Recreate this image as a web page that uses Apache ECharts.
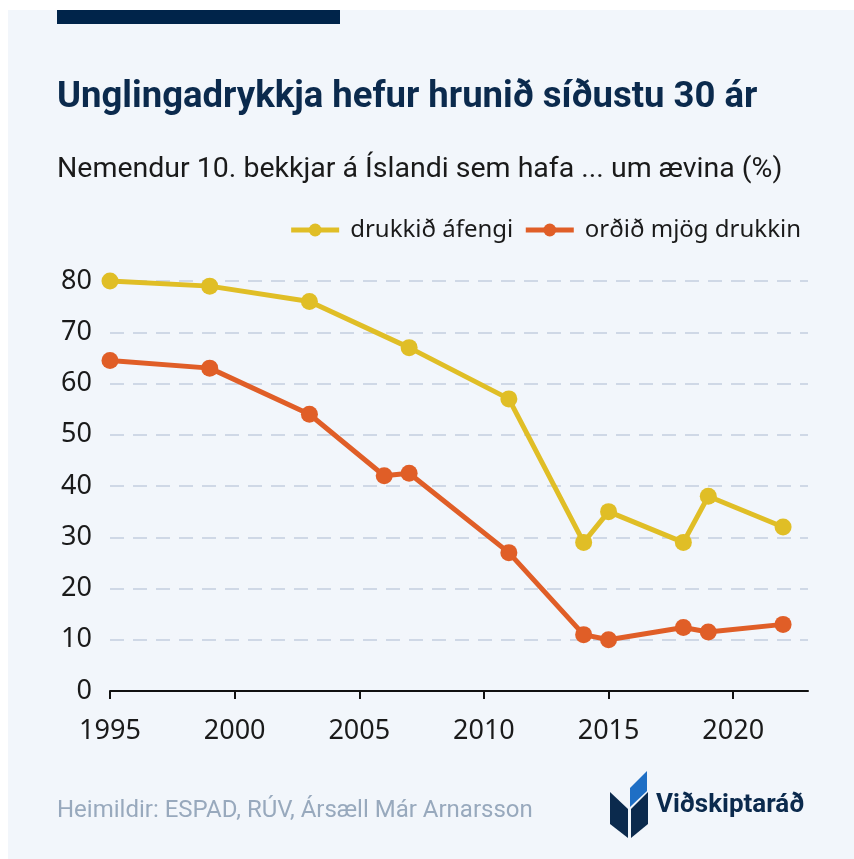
<!DOCTYPE html>
<html>
<head>
<meta charset="utf-8">
<script src="https://cdn.jsdelivr.net/npm/echarts@6/dist/echarts.min.js"></script>
<style>
html,body{margin:0;padding:0;background:#ffffff;}
#panel{position:absolute;left:8px;top:10px;right:0;bottom:0;background:#f2f6fb;}
#chart{position:absolute;left:0;top:0;width:854px;height:859px;}
</style>
</head>
<body>
<div id="panel"></div>
<div id="chart"></div>
<script>
const titleText = 'Unglingadrykkja hefur hrunið síðustu 30 ár';
const subtitleText = 'Nemendur 10. bekkjar á Íslandi sem hafa ... um ævina (%)';
const sourceText = 'Heimildir: ESPAD, RÚV, Ársæll Már Arnarsson';
const logoText = 'Viðskiptaráð';
const seriesNames = ['drukkið áfengi', 'orðið mjög drukkin'];
const yearsAlcohol = [1995, 1999, 2003, 2007, 2011, 2014, 2015, 2018, 2019, 2022];
const valuesAlcohol = [80, 79, 76, 67, 57, 29, 35, 29, 38, 32];
const yearsDrunk = [1995, 1999, 2003, 2006, 2007, 2011, 2014, 2015, 2018, 2019, 2022];
const valuesDrunk = [64.5, 63, 54, 42, 42.5, 27, 11, 10, 12.4, 11.5, 13];
const xTicks = [1995, 2000, 2005, 2010, 2015, 2020];

const titleFont = '"Roboto", sans-serif';
const sans = '"Noto Sans", "Roboto", sans-serif';

const chart = echarts.init(document.getElementById('chart'), null, {renderer: 'canvas'});
const pair = (xs, ys) => xs.map((x, i) => [x, ys[i]]);

chart.setOption({
  animation: false,
  textStyle: {fontFamily: sans},
  title: [
    {text: titleText, left: 52, top: 74,
     textStyle: {fontFamily: titleFont, fontSize: 36.5, fontWeight: 'bold', color: '#0b2a4d'}},
    {text: subtitleText, left: 52, top: 150,
     textStyle: {fontFamily: titleFont, fontSize: 28.5, fontWeight: 'normal', color: '#1a1a1a'}},
    {text: sourceText, left: 52, top: 794,
     textStyle: {fontFamily: titleFont, fontSize: 24, fontWeight: 'normal', color: '#98a9bd'}}
  ],
  legend: {
    right: 48, top: 213, itemWidth: 48, itemHeight: 16, itemGap: 10,
    lineStyle: {width: 5},
    textStyle: {fontFamily: sans, fontSize: 24, color: '#1a1a1a', padding: [0, 0, 0, 6]},
    data: seriesNames
  },
  grid: {left: 110, right: 46, top: 281, bottom: 168, containLabel: false},
  xAxis: {
    type: 'value', min: 1995, max: 2023, interval: 5,
    axisLine: {show: true, lineStyle: {color: '#111', width: 2}},
    axisTick: {show: true, length: 8, lineStyle: {color: '#111', width: 2}, customValues: xTicks},
    axisLabel: {fontSize: 27, color: '#1a1a1a', margin: 27, customValues: xTicks,
      formatter: v => String(v)},
    splitLine: {show: false}
  },
  yAxis: {
    type: 'value', min: 0, max: 80, interval: 10,
    axisLine: {show: false}, axisTick: {show: false},
    axisLabel: {fontSize: 27, color: '#1a1a1a', margin: 18},
    splitLine: {show: true, lineStyle: {color: '#cfd8e6', width: 2, type: [14, 9]}}
  },
  series: [
    {name: seriesNames[0], type: 'line', data: pair(yearsAlcohol, valuesAlcohol),
     color: '#e0be26', symbol: 'circle', symbolSize: 17, clip: false,
     lineStyle: {width: 5, color: '#e0be26'}, itemStyle: {color: '#e0be26'}},
    {name: seriesNames[1], type: 'line', data: pair(yearsDrunk, valuesDrunk),
     color: '#e05e27', symbol: 'circle', symbolSize: 17, clip: false,
     lineStyle: {width: 5, color: '#e05e27'}, itemStyle: {color: '#e05e27'}}
  ],
  graphic: [
    {type: 'rect', shape: {x: 57, y: 10, width: 283, height: 14}, style: {fill: '#00244a'}},
    {type: 'polygon', shape: {points: [[610, 792], [628, 809], [628, 838], [610, 824]]}, style: {fill: '#0b2a4d'}},
    {type: 'polygon', shape: {points: [[648, 792], [631, 809], [631, 838], [648, 824]]}, style: {fill: '#0b2a4d'}},
    {type: 'polygon', shape: {points: [[630, 788], [647, 771], [647, 791], [630, 807]]}, style: {fill: '#1f6fc5'}},
    {type: 'text', x: 656, y: 805, style: {text: logoText, fontFamily: 'Roboto, sans-serif', fontSize: 26,
      fontWeight: 'bold', fill: '#0b2a4d', textVerticalAlign: 'middle'}}
  ]
});
</script>
</body>
</html>
